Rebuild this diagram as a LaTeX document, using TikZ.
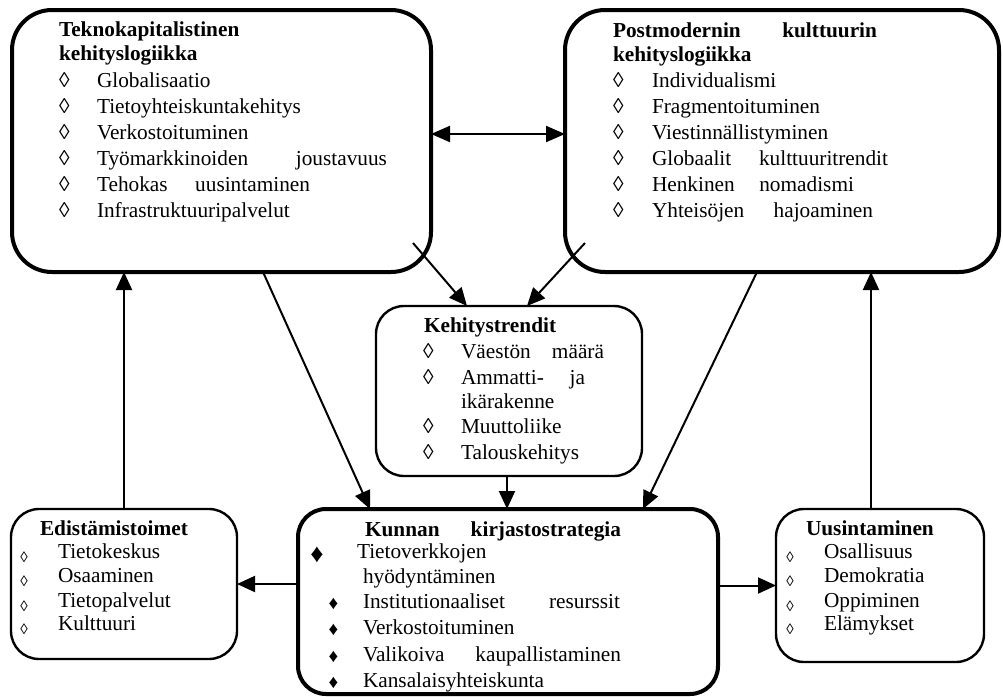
\documentclass[tikz,border=0pt]{standalone}
\usepackage{fontspec}
\setmainfont{Liberation Serif}
\usetikzlibrary{arrows.meta}
\newcommand\fsz{\fontsize{21.3}{26}\selectfont}
\tikzset{
 bigbox/.style={draw, line width=4pt, rounded corners=40pt, inner sep=0pt, outer sep=0pt},
 midbox/.style={draw, line width=4pt, rounded corners=28pt, inner sep=0pt, outer sep=0pt},
 smallbox/.style={draw, line width=2.4pt, rounded corners=28pt, inner sep=0pt, outer sep=0pt},
 txt/.style={anchor=base west, inner sep=0pt, outer sep=0pt, font=\fsz},
 hd/.style={txt, font=\fsz\bfseries},
 loz/.style={anchor=base west, inner sep=0pt, outer sep=0pt, font=\fsz},
 sloz/.style={anchor=center, inner sep=0pt, outer sep=0pt, font=\fontsize{15}{18}\selectfont},
 bdia/.style={anchor=center, inner sep=0pt, outer sep=0pt, font=\fontsize{26}{28}\selectfont},
 sdia/.style={anchor=center, inner sep=0pt, outer sep=0pt, font=\fontsize{19}{22}\selectfont},
 arr/.style={line width=2pt, -{Triangle[length=18pt,width=16pt]}},
 darr/.style={line width=2pt, {Triangle[length=19pt,width=16pt]}-{Triangle[length=19pt,width=16pt]}},
}
\begin{document}
\begin{tikzpicture}[x=1pt,y=-1pt]
\useasboundingbox (0,0) rectangle (1003,696);
% boxes
\node[bigbox, minimum width=419pt, minimum height=262pt] (tl) at (221.5,141) {};
\node[bigbox, minimum width=434pt, minimum height=262pt] (tr) at (782,141) {};
\node[smallbox, minimum width=266pt, minimum height=170pt] (kt) at (509,391) {};
\node[midbox, minimum width=420pt, minimum height=185pt] (kn) at (508,601.5) {};
\node[smallbox, minimum width=226pt, minimum height=150pt] (ed) at (124,584) {};
\node[smallbox, minimum width=208pt, minimum height=153pt] (uu) at (880,585.5) {};

% top left text
\node[hd] (tlh1) at (59,36) {Teknokapitalistinen};
\node[hd] (tlh2) at (59,60) {kehityslogiikka};
\foreach \yy [count=\i] in {87,113,139,165,191,217} \node[loz] (tld\i) at (59,\yy) {◊};
\node[txt] (tl1) at (97,87) {Globalisaatio};
\node[txt] (tl2) at (97,113) {Tietoyhteiskuntakehitys};
\node[txt] (tl3) at (97,139) {Verkostoituminen};
\node[txt] (tl4) at (97,165) {\makebox[290pt][s]{Työmarkkinoiden joustavuus}};
\node[txt] (tl5) at (97,191) {\makebox[213pt][s]{Tehokas uusintaminen}};
\node[txt] (tl6) at (97,217) {Infrastruktuuripalvelut};

% top right text
\node[hd] (trh1) at (613,37) {\makebox[264pt][s]{Postmodernin kulttuurin}};
\node[hd] (trh2) at (613,61) {kehityslogiikka};
\foreach \yy [count=\i] in {87,113,139,165,191,217} \node[loz] (trd\i) at (613,\yy) {◊};
\node[txt] (tr1) at (652,87) {Individualismi};
\node[txt] (tr2) at (652,113) {Fragmentoituminen};
\node[txt] (tr3) at (652,139) {Viestinnällistyminen};
\node[txt] (tr4) at (652,165) {\makebox[236pt][s]{Globaalit kulttuuritrendit}};
\node[txt] (tr5) at (652,191) {\makebox[202pt][s]{Henkinen nomadismi}};
\node[txt] (tr6) at (652,217) {\makebox[221pt][s]{Yhteisöjen hajoaminen}};

% Kehitystrendit
\node[hd] (kth) at (424,332) {Kehitystrendit};
\foreach \yy [count=\i] in {358,384,433,459} \node[loz] (ktd\i) at (423,\yy) {◊};
\node[txt] (kt1) at (461,358) {\makebox[143pt][s]{Väestön määrä}};
\node[txt] (kt2) at (461,384) {\makebox[124pt][s]{Ammatti- ja}};
\node[txt] (kt2b) at (461,408) {ikärakenne};
\node[txt] (kt3) at (461,433) {Muuttoliike};
\node[txt] (kt4) at (461,459) {Talouskehitys};

% Kunnan kirjastostrategia
\node[hd] (knh) at (365,536) {\makebox[256pt][s]{Kunnan kirjastostrategia}};
\node[bdia] (knd1) at (317,555) {♦};
\node[txt] (kn1) at (357,558) {Tietoverkkojen};
\node[txt] (kn1b) at (363,583) {hyödyntäminen};
\foreach \yy [count=\i from 2] in {604,630,657,683} \node[sdia] (knd\i) at (333.5,\yy) {♦};
\node[txt] (kn2) at (363,608) {\makebox[257pt][s]{Institutionaaliset resurssit}};
\node[txt] (kn3) at (363,634) {Verkostoituminen};
\node[txt] (kn4) at (363,661) {\makebox[258pt][s]{Valikoiva kaupallistaminen}};
\node[txt] (kn5) at (363,687) {Kansalaisyhteiskunta};

% Edistamistoimet
\node[hd] (edh) at (40,535) {Edistämistoimet};
\foreach \yy [count=\i] in {557,581,606,629} \node[sloz] (edd\i) at (24,\yy) {◊};
\node[txt] (ed1) at (58,558) {Tietokeskus};
\node[txt] (ed2) at (58,582) {Osaaminen};
\node[txt] (ed3) at (58,607) {Tietopalvelut};
\node[txt] (ed4) at (58,630) {Kulttuuri};

% Uusintaminen
\node[hd] (uuh) at (806,535) {Uusintaminen};
\foreach \yy [count=\i] in {557,581,606,629} \node[sloz] (uud\i) at (790,\yy) {◊};
\node[txt] (uu1) at (824,558) {Osallisuus};
\node[txt] (uu2) at (824,582) {Demokratia};
\node[txt] (uu3) at (824,607) {Oppiminen};
\node[txt] (uu4) at (824,630) {Elämykset};

% connectors
\draw[darr] ([yshift=7pt]tl.east) -- ([yshift=7pt]tr.west);
\draw[arr] ([shift={(-18,-29)}]tl.south east) -- ([xshift=-42pt]kt.north);
\draw[arr] ([shift={(20,-29)}]tr.south west) -- ([xshift=18pt]kt.north);
\draw[arr] ([xshift=41.5pt]tl.south) -- ([xshift=-138pt]kn.north);
\draw[arr] ([xshift=-25pt]tr.south) -- ([xshift=135pt]kn.north);
\draw[arr] ([xshift=-2pt]kt.south) -- ([xshift=-2pt]kt.south |- kn.north);
\draw[arr] (ed.north) -- (ed.north |- tl.south);
\draw[arr] ([xshift=-9pt]uu.north) -- ([xshift=-9pt]uu.north |- tr.south);
\draw[arr] (ed.east -| kn.west) -- (ed.east);
\draw[arr] (uu.west -| kn.east) -- (uu.west);
\end{tikzpicture}
\end{document}
